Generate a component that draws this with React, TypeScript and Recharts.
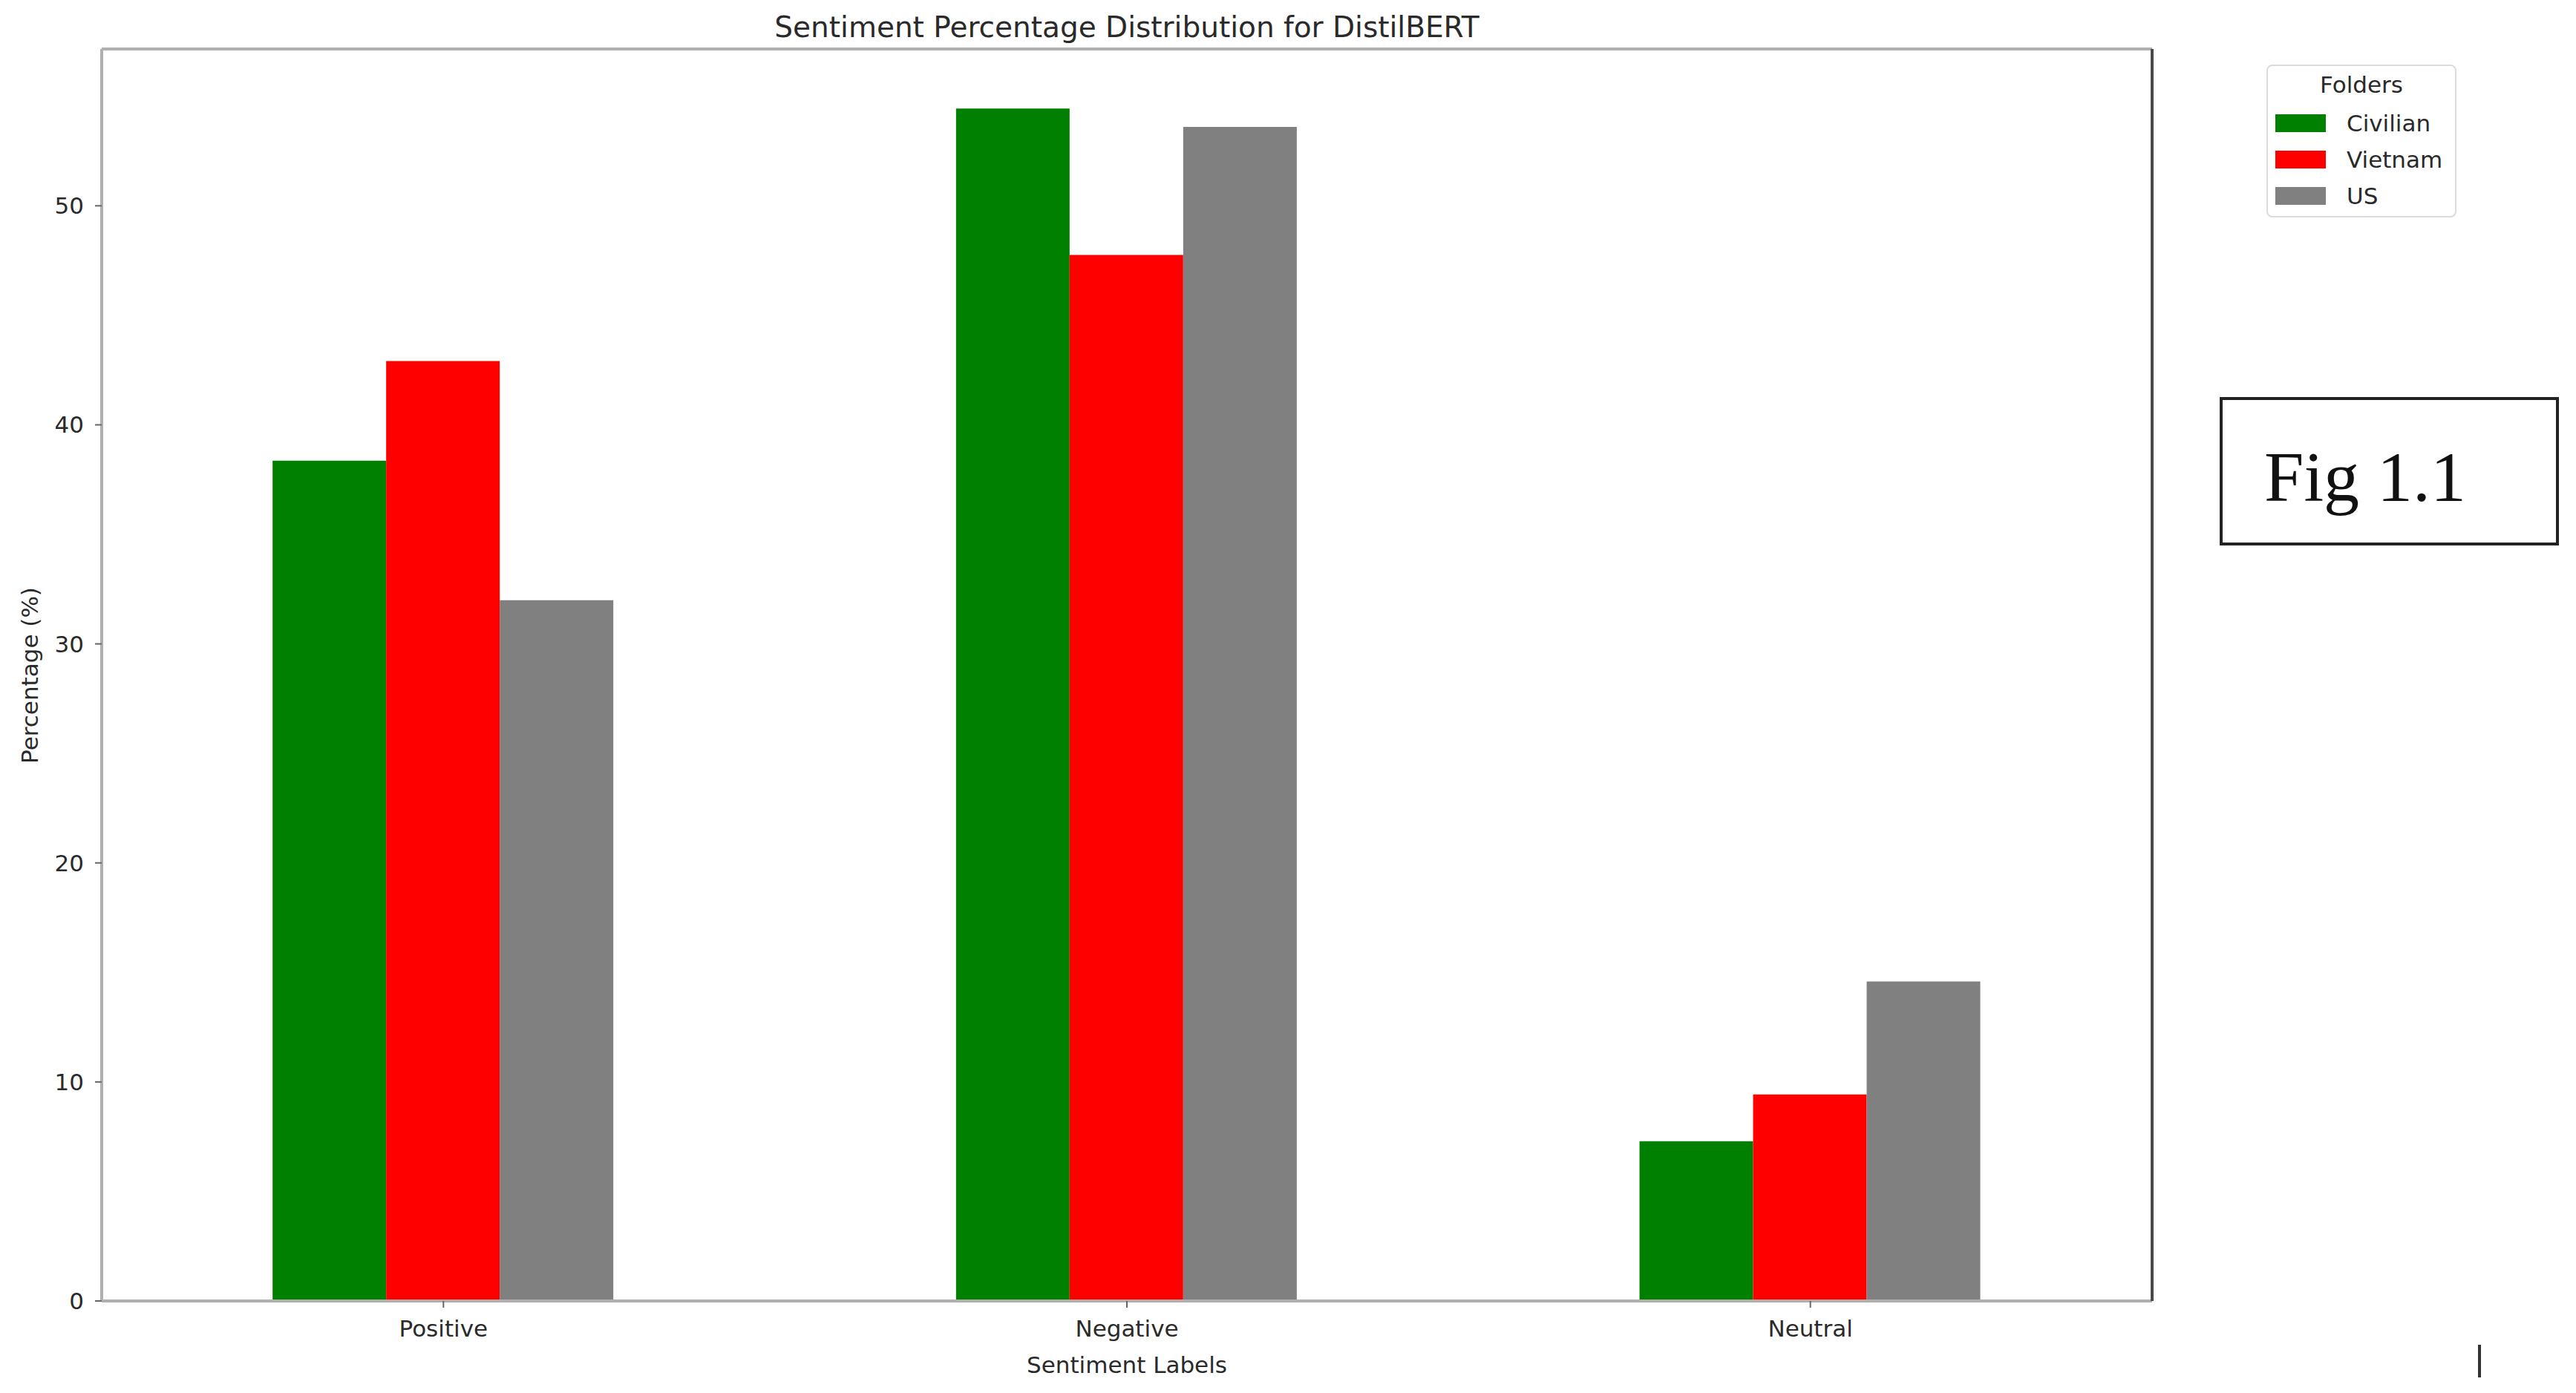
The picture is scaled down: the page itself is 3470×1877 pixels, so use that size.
import { BarChart, Bar, XAxis, YAxis, Label } from 'recharts';

// values (percent)
const categories = ['Positive', 'Negative', 'Neutral'];
const civilian = [38.36, 54.44, 7.29];
const vietnam = [42.91, 47.76, 9.43];
const us = [31.99, 53.6, 14.59];
const yTicks = [0, 10, 20, 30, 40, 50];
const yMax = 57.16;

const series = [
  { key: 'Civilian', values: civilian, color: '#008000' },
  { key: 'Vietnam', values: vietnam, color: '#ff0000' },
  { key: 'US', values: us, color: '#808080' },
];

const data = categories.map((label, i) => {
  const row: Record<string, string | number> = { label };
  series.forEach((s) => {
    row[s.key] = s.values[i];
  });
  return row;
});

const FONT = '"DejaVu Sans", sans-serif';
const TEXT = '#2a2a2a';
const SPINE = '#b0b0b0';

function FoldersLegend() {
  return (
    <div
      style={{
        position: 'absolute',
        left: 3053,
        top: 87,
        width: 256,
        height: 206,
        boxSizing: 'border-box',
        border: '2px solid #dcdcdc',
        borderRadius: 8,
        background: '#fff',
        fontFamily: FONT,
        color: TEXT,
      }}
    >
      <div
        style={{
          position: 'absolute',
          left: 0,
          right: 0,
          top: 8,
          textAlign: 'center',
          fontSize: 31,
          lineHeight: '34px',
        }}
      >
        Folders
      </div>
      {series.map((s, i) => (
        <div key={s.key} style={{ position: 'absolute', left: 10, top: 60 + i * 49, height: 34 }}>
          <div
            style={{
              position: 'absolute',
              left: 0,
              top: 5,
              width: 68,
              height: 24,
              background: s.color,
            }}
          />
          <div
            style={{
              position: 'absolute',
              left: 96,
              top: 0,
              fontSize: 31,
              lineHeight: '34px',
              whiteSpace: 'nowrap',
            }}
          >
            {s.key}
          </div>
        </div>
      ))}
    </div>
  );
}

export default function App() {
  return (
    <div
      style={{
        position: 'absolute',
        left: 0,
        top: 0,
        width: 3470,
        height: 1877,
        background: '#fff',
        overflow: 'hidden',
      }}
    >
      <div
        style={{
          position: 'absolute',
          left: 1518,
          top: 17,
          transform: 'translateX(-50%)',
          fontFamily: FONT,
          fontSize: 39,
          lineHeight: 1,
          color: TEXT,
          whiteSpace: 'nowrap',
        }}
      >
        Sentiment Percentage Distribution for DistilBERT
      </div>

      <BarChart
        width={3470}
        height={1877}
        data={data}
        margin={{ top: 65, right: 570, bottom: 0, left: 0 }}
        barCategoryGap="25%"
        barGap={0}
        style={{ position: 'absolute', left: 0, top: 0 }}
      >
        <XAxis
          dataKey="label"
          height={124}
          tickSize={9}
          tickMargin={17}
          tick={{ fontSize: 31, fill: TEXT, fontFamily: FONT }}
          tickLine={{ stroke: '#666', strokeWidth: 2 }}
          axisLine={{ stroke: SPINE, strokeWidth: 4 }}
        >
          <Label
            content={() => (
              <text x={1518} y={1850} textAnchor="middle" fontSize={31} fill={TEXT} fontFamily={FONT}>
                Sentiment Labels
              </text>
            )}
          />
        </XAxis>
        {/* top spine */}
        <XAxis
          xAxisId="top"
          orientation="top"
          type="number"
          domain={[0, 1]}
          height={1}
          tick={false}
          tickLine={false}
          axisLine={{ stroke: SPINE, strokeWidth: 4 }}
        />
        <YAxis
          width={137}
          domain={[0, yMax]}
          ticks={yTicks}
          tickSize={9}
          tickMargin={15}
          tick={{ fontSize: 31, fill: TEXT, fontFamily: FONT }}
          tickLine={{ stroke: '#666', strokeWidth: 2 }}
          axisLine={{ stroke: SPINE, strokeWidth: 4 }}
        >
          <Label
            content={() => (
              <text
                x={51}
                y={910}
                transform="rotate(-90 51 910)"
                textAnchor="middle"
                fontSize={31}
                fill={TEXT}
                fontFamily={FONT}
              >
                Percentage (%)
              </text>
            )}
          />
        </YAxis>
        {/* right spine */}
        <YAxis
          yAxisId="right"
          orientation="right"
          type="number"
          domain={[0, 1]}
          width={1}
          tick={false}
          tickLine={false}
          axisLine={{ stroke: '#4a4a4a', strokeWidth: 4 }}
        />
        {series.map((s) => (
          <Bar key={s.key} dataKey={s.key} fill={s.color} isAnimationActive={false} />
        ))}
      </BarChart>

      <FoldersLegend />

      <div
        style={{
          position: 'absolute',
          left: 2990,
          top: 535,
          width: 457,
          height: 200,
          boxSizing: 'border-box',
          border: '4px solid #222',
        }}
      />
      <div
        style={{
          position: 'absolute',
          left: 3050,
          top: 595,
          fontFamily: '"Liberation Serif", "Times New Roman", serif',
          fontSize: 96,
          lineHeight: 1,
          color: '#111',
          whiteSpace: 'nowrap',
        }}
      >
        Fig 1.1
      </div>

      <div
        style={{
          position: 'absolute',
          left: 3338,
          top: 1812,
          width: 4,
          height: 44,
          background: '#333',
        }}
      />
    </div>
  );
}
